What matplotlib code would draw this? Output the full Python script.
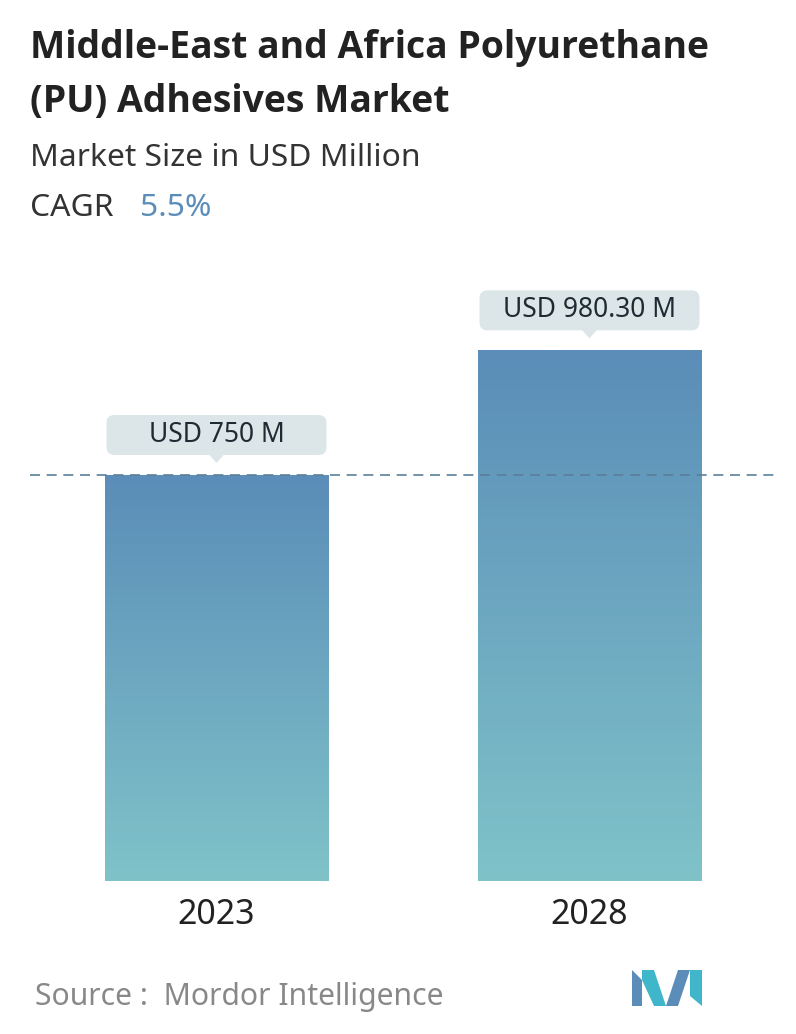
import matplotlib
matplotlib.use("Agg")
import matplotlib.pyplot as plt
import numpy as np
from matplotlib.patches import Polygon, FancyBboxPatch
from matplotlib.colors import LinearSegmentedColormap

years = ["2023", "2028"]
values = [750, 980.30]
labels = ["USD 750 M", "USD 980.30 M"]

plt.rcParams['font.family'] = ['Noto Sans', 'DejaVu Sans']
W, H = 796, 1034
fig = plt.figure(figsize=(W/100, H/100), dpi=100)

def fx(p): return p / W
def fy(p): return 1 - p / H

ax = fig.add_axes([fx(30), fy(881), fx(776) - fx(30), fy(250) - fy(881)])
ymax = values[0] * (881 - 250) / (881 - 475)
ax.set_xlim(-0.5, 1.5)
ax.set_ylim(0, ymax)
ax.axis('off')
xpx = 2 / 746
ypx = ymax / 631

cmap = LinearSegmentedColormap.from_list("g", ["#7fc3c9", "#5b8db8"])
grad = np.linspace(0, 1, 256).reshape(-1, 1)
bw = 0.598
for i, v in enumerate(values):
    bar = ax.bar(i, v, width=bw, color='none', zorder=2)[0]
    im = ax.imshow(grad, cmap=cmap, origin='lower', aspect='auto',
                   extent=[i - bw/2, i + bw/2, 0, v], zorder=2)
    im.set_clip_path(bar)

ax.axhline(values[0], color='#5b7f99', lw=1.2, ls=(0, (6, 4)), zorder=3)

for i, (v, lab) in enumerate(zip(values, labels)):
    yc = v + 40 * ypx
    bwid, bh = 220 * xpx, 40 * ypx
    ax.add_patch(FancyBboxPatch((i - bwid/2, yc - bh/2), bwid, bh,
                                boxstyle=f'round,pad=0,rounding_size={8*xpx}',
                                mutation_aspect=ypx/xpx,
                                fc='#dce6e8', ec='none', zorder=4))
    ax.text(i, yc, lab, ha='center', va='center', fontsize=19,
            color='#1e2b33', zorder=5)
    tri_top = yc - bh/2 + 1 * ypx
    ax.add_patch(Polygon([[i - 8*xpx, tri_top], [i + 8*xpx, tri_top],
                          [i, tri_top - 9 * ypx]], closed=True,
                         fc='#dce6e8', ec='none', zorder=4))
    fig.text(fx(30 + (i + 0.5) * 373), fy(915), years[i], ha='center',
             va='center', fontsize=24.5, color='#222222')

tf = ['Open Sans', 'DejaVu Sans']
fig.text(fx(30), fy(48), "Middle-East and Africa Polyurethane", fontsize=26.9,
         weight='bold', color='#222222', va='center', family=tf)
fig.text(fx(30), fy(102), "(PU) Adhesives Market", fontsize=26.9,
         weight='bold', color='#222222', va='center', family=tf)
fig.text(fx(30), fy(158), "Market Size in USD Million", fontsize=22.9,
         color='#333333', va='center')
fig.text(fx(30), fy(208), "CAGR", fontsize=22.9, color='#333333', va='center')
fig.text(fx(140), fy(208), "5.5%", fontsize=22.9, color='#5b8db8', va='center')
fig.text(fx(35), fy(997), "Source :  Mordor Intelligence", fontsize=21.7,
         color='#888888', va='center')

lax = fig.add_axes([fx(632), fy(1006), fx(70), fy(970) - fy(1006)])
lax.set_xlim(0, 70); lax.set_ylim(0, 36); lax.axis('off')
lax.add_patch(Polygon([[0, 0], [10, 0], [10, 26], [0, 36]], fc='#5b8db8'))
lax.add_patch(Polygon([[10, 26], [22, 0], [34, 0], [22, 36], [10, 36]], fc='#3fb6c9'))
lax.add_patch(Polygon([[34, 0], [46, 36], [58, 36], [46, 0]], fc='#5b8db8'))
lax.add_patch(Polygon([[58, 36], [70, 36], [70, 0], [58, 10]], fc='#3fb6c9'))

fig.savefig("out.png", dpi=100)
